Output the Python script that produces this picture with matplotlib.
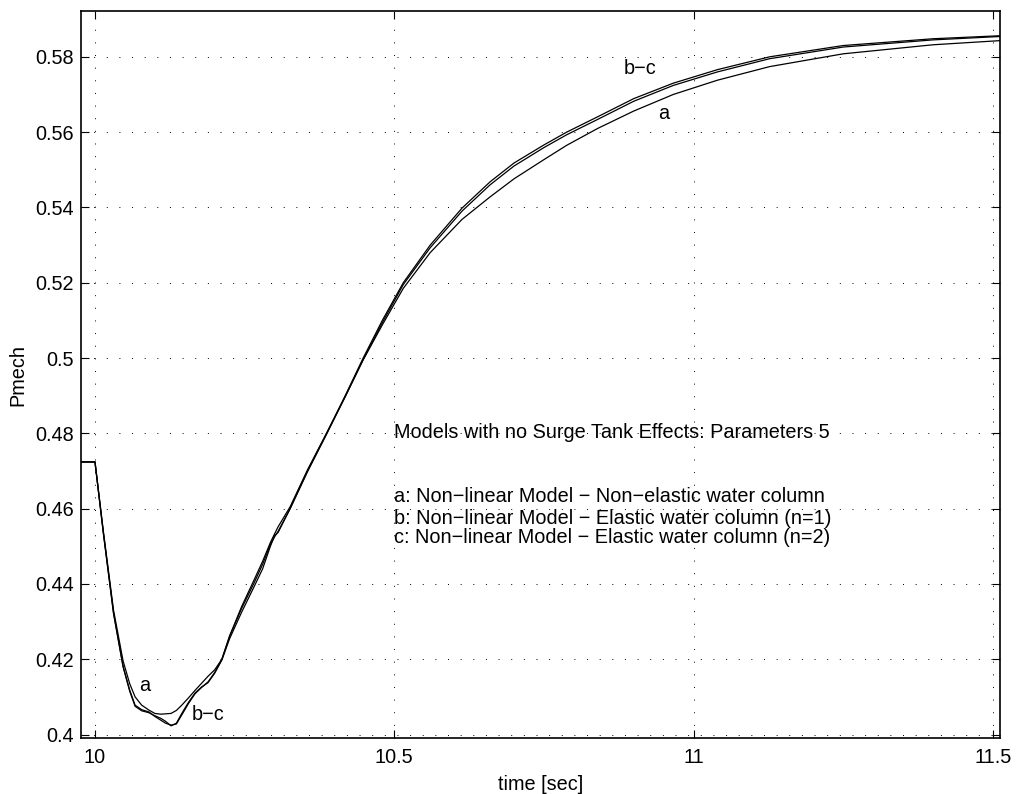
import numpy as np
import matplotlib
matplotlib.use("Agg")
import matplotlib.pyplot as plt

plt.rcParams['font.family'] = ['Liberation Sans', 'DejaVu Sans']

# time samples [sec], shared by all three models
t = [9.977, 10.000, 10.014, 10.031, 10.047, 10.058, 10.067, 10.078, 10.090, 10.100,
     10.110, 10.118, 10.127, 10.136, 10.145, 10.156, 10.167, 10.178, 10.189, 10.200,
     10.212, 10.225, 10.245, 10.265, 10.280, 10.293, 10.300, 10.306, 10.326, 10.355,
     10.387, 10.418, 10.448, 10.480, 10.515, 10.560, 10.613, 10.660, 10.700, 10.750,
     10.788, 10.840, 10.900, 10.966, 11.040, 11.127, 11.250, 11.400, 11.512]

# a: non-linear model, non-elastic water column
p_a = [0.4724, 0.4724, 0.4540, 0.4330, 0.4195, 0.4135, 0.4100, 0.4078, 0.4065, 0.4056,
       0.4054, 0.4055, 0.4056, 0.4064, 0.4078, 0.4097, 0.4117, 0.4136, 0.4155, 0.4172,
       0.4200, 0.4262, 0.4340, 0.4408, 0.4460, 0.4510, 0.4533, 0.4552, 0.4605, 0.4703,
       0.4801, 0.4898, 0.4995, 0.5088, 0.5185, 0.5280, 0.5368, 0.5428, 0.5476, 0.5527,
       0.5565, 0.5610, 0.5656, 0.5700, 0.5738, 0.5774, 0.5808, 0.5832, 0.5843]

# b: elastic water column (n=1)
p_b = [0.4724, 0.4724, 0.4535, 0.4322, 0.4180, 0.4115, 0.4075, 0.4063, 0.4058, 0.4050,
       0.4043, 0.4035, 0.4023, 0.4030, 0.4056, 0.4085, 0.4110, 0.4126, 0.4138, 0.4163,
       0.4198, 0.4255, 0.4325, 0.4390, 0.4440, 0.4500, 0.4528, 0.4537, 0.4600, 0.4700,
       0.4800, 0.4900, 0.5000, 0.5100, 0.5200, 0.5300, 0.5398, 0.5468, 0.5518, 0.5566,
       0.5600, 0.5641, 0.5689, 0.5730, 0.5766, 0.5800, 0.5830, 0.5848, 0.5856]

# c: elastic water column (n=2)
p_c = [0.4724, 0.4724, 0.4535, 0.4322, 0.4180, 0.4118, 0.4078, 0.4066, 0.4060, 0.4048,
       0.4038, 0.4030, 0.4025, 0.4028, 0.4052, 0.4082, 0.4108, 0.4125, 0.4140, 0.4165,
       0.4200, 0.4262, 0.4335, 0.4400, 0.4452, 0.4505, 0.4525, 0.4540, 0.4600, 0.4698,
       0.4798, 0.4897, 0.4996, 0.5094, 0.5195, 0.5293, 0.5390, 0.5460, 0.5510, 0.5559,
       0.5593, 0.5634, 0.5682, 0.5724, 0.5760, 0.5795, 0.5826, 0.5845, 0.5854]

xticks = [10, 10.5, 11, 11.5]
xticklabels = ['10', '10.5', '11', '11.5']
yticks = [0.40, 0.42, 0.44, 0.46, 0.48, 0.50, 0.52, 0.54, 0.56, 0.58]
yticklabels = ['0.4', '0.42', '0.44', '0.46', '0.48', '0.5', '0.52', '0.54', '0.56', '0.58']

legend_title = 'Models with no Surge Tank Effects: Parameters 5'
legend_lines = ['a: Non\u2212linear Model \u2212 Non\u2212elastic water column',
                'b: Non\u2212linear Model \u2212 Elastic water column (n=1)',
                'c: Non\u2212linear Model \u2212 Elastic water column (n=2)']

fs = 14.3
fig = plt.figure(figsize=(10.16, 7.94), dpi=100)
ax = fig.add_axes([0.0797, 0.0705, 0.9045, 0.9156])

for p in (p_a, p_b, p_c):
    ax.plot(t, p, color='black', lw=0.9)

ax.set_xlim(9.9766, 11.5117)
ax.set_ylim(0.39907, 0.59216)
ax.set_xticks(xticks)
ax.set_xticklabels(xticklabels)
ax.set_yticks(yticks)
ax.set_yticklabels(yticklabels)
ax.tick_params(direction='in', length=6, width=0.8, top=True, right=True,
               labelsize=fs)
ax.tick_params(axis='x', pad=7)
ax.tick_params(axis='y', pad=5)
ax.grid(True, color='black', lw=0.7, linestyle=(0, (1, 12)))
for s in ax.spines.values():
    s.set_linewidth(1.2)

ax.set_xlabel('time [sec]', fontsize=fs, labelpad=6)
ax.set_ylabel('Pmech', fontsize=fs, labelpad=6)

ax.text(10.4995, 0.4801, legend_title, fontsize=fs, va='center', ha='left')
for ty, s in zip([0.4631, 0.4575, 0.4522], legend_lines):
    ax.text(10.4995, ty, s, fontsize=fs, va='center', ha='left')

ax.text(10.0835, 0.4131, 'a', fontsize=fs, va='center', ha='center')
ax.text(10.189, 0.4052, 'b\u2212c', fontsize=fs, va='center', ha='center')
ax.text(10.910, 0.5770, 'b\u2212c', fontsize=fs, va='center', ha='center')
ax.text(10.950, 0.5649, 'a', fontsize=fs, va='center', ha='center')

fig.savefig('out.png', dpi=100)
